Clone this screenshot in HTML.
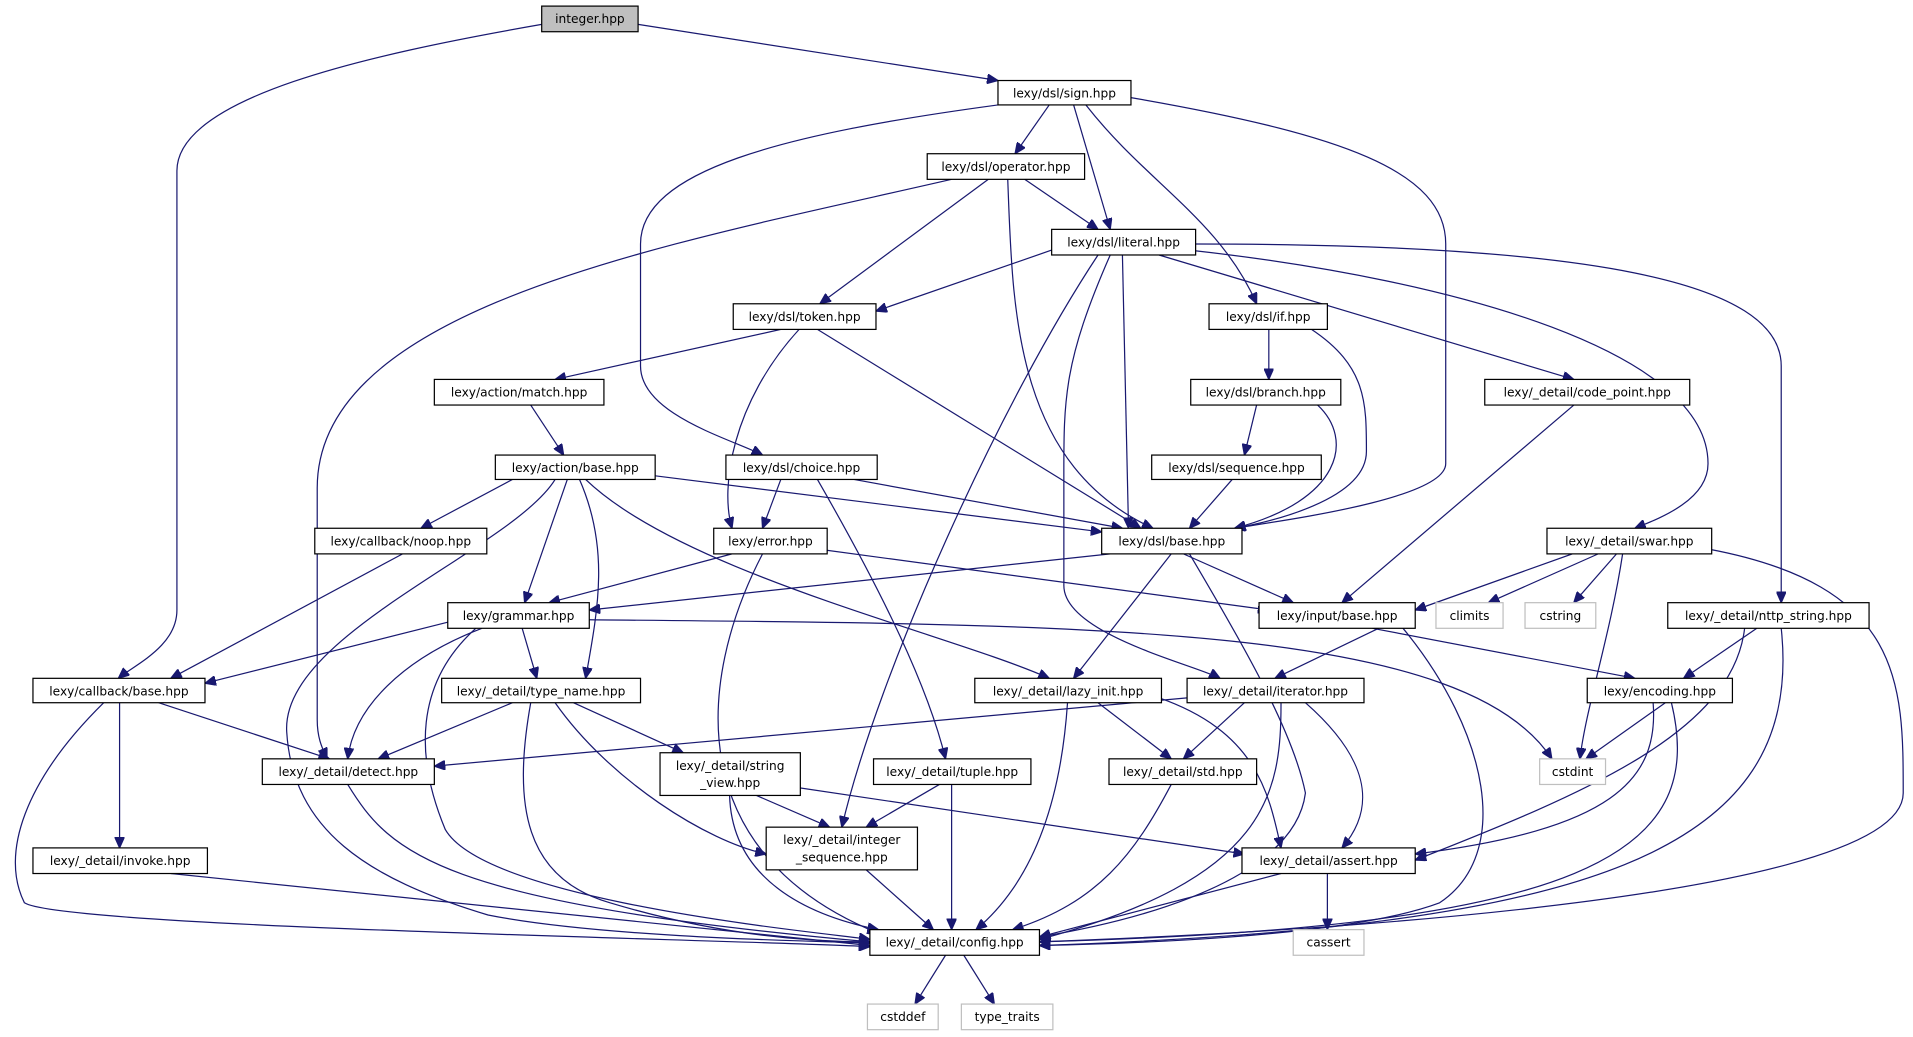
<!DOCTYPE html>
<html><head><meta charset="utf-8"><style>
html,body{margin:0;padding:0;background:#fff;}
svg{display:block;}
text{font-family:"DejaVu Sans","Liberation Sans",sans-serif;font-size:10px;fill:#000;}
.n{fill:#fff;stroke:#000;stroke-width:1;}
.g{fill:#fff;stroke:#bfbfbf;stroke-width:1;}
.e{fill:none;stroke:#191970;stroke-width:1;marker-end:url(#a);}
</style></head><body>
<svg width="1913" height="1037" viewBox="0 0 1568 850" xmlns="http://www.w3.org/2000/svg">
<defs><marker id="a" markerUnits="userSpaceOnUse" markerWidth="10" markerHeight="8" refX="9" refY="4" orient="auto"><path d="M0,0 L9,4 L0,8 z" fill="#191970" stroke="#191970"/></marker></defs>
<g>
<path class="e" d="M523,20 L818,66"/>
<path class="e" d="M444,20 C300,45 145,80 145,140 L145,500 C145,530 110,545 97,556"/>
<path class="e" d="M860,86 L832,126"/>
<path class="e" d="M880,86 L910,188"/>
<path class="e" d="M890,86 C940,150 1000,180 1030,249"/>
<path class="e" d="M927,80 C1100,110 1185,140 1185,200 L1185,380 C1185,410 1040,428 1012,433"/>
<path class="e" d="M818,86 C640,110 525,140 525,200 L525,300 C525,340 600,360 625,373"/>
<path class="e" d="M840,147 L900,188"/>
<path class="e" d="M810,147 L672,249"/>
<path class="e" d="M826,147 C830,250 830,380 945,433"/>
<path class="e" d="M780,147 C550,200 260,250 260,400 L260,590 C260,605 264,613 268,622"/>
<path class="e" d="M862,205 L718,255"/>
<path class="e" d="M920,209 L925,433"/>
<path class="e" d="M950,209 L1290,311"/>
<path class="e" d="M975,205 C1200,230 1400,290 1400,380 C1400,410 1360,425 1340,433"/>
<path class="e" d="M980,200 C1300,200 1460,230 1460,300 L1460,494"/>
<path class="e" d="M900,209 C820,330 720,550 690,678"/>
<path class="e" d="M910,209 C870,300 872,330 872,400 L872,480 C872,520 980,545 1000,556"/>
<path class="e" d="M640,270 L455,311"/>
<path class="e" d="M655,270 C600,330 590,400 600,433"/>
<path class="e" d="M670,270 L935,433"/>
<path class="e" d="M1040,270 L1040,311"/>
<path class="e" d="M1075,270 C1120,300 1120,330 1120,370 C1120,410 1040,428 1012,433"/>
<path class="e" d="M435,332 L462,373"/>
<path class="e" d="M1030,332 L1020,373"/>
<path class="e" d="M1080,332 C1110,360 1100,410 1012,433"/>
<path class="e" d="M1290,332 L1100,494"/>
<path class="e" d="M420,393 L345,433"/>
<path class="e" d="M465,393 L430,494"/>
<path class="e" d="M537,390 L903,436"/>
<path class="e" d="M475,393 C500,450 490,500 480,556"/>
<path class="e" d="M480,393 C560,470 780,520 860,556"/>
<path class="e" d="M455,393 C420,450 230,520 235,600 C240,680 300,720 400,750 C500,770 700,772 713,773"/>
<path class="e" d="M640,393 L625,433"/>
<path class="e" d="M700,393 L920,433"/>
<path class="e" d="M670,393 C720,480 760,560 775,622"/>
<path class="e" d="M1010,393 L975,433"/>
<path class="e" d="M330,454 L140,556"/>
<path class="e" d="M600,454 L450,494"/>
<path class="e" d="M670,450 L1040,500"/>
<path class="e" d="M625,454 C570,560 560,700 720,765"/>
<path class="e" d="M910,454 L483,500"/>
<path class="e" d="M970,454 L1060,494"/>
<path class="e" d="M960,454 L880,556"/>
<path class="e" d="M975,454 C1020,530 1060,600 1070,650 C1060,730 900,760 852,768"/>
<path class="e" d="M1300,450 L1160,500"/>
<path class="e" d="M1310,454 L1220,494"/>
<path class="e" d="M1325,454 L1290,494"/>
<path class="e" d="M1330,454 C1320,520 1300,580 1295,622"/>
<path class="e" d="M1400,450 C1560,480 1560,560 1560,650 C1560,750 900,770 852,772"/>
<path class="e" d="M367,510 L168,560"/>
<path class="e" d="M428,515 L440,556"/>
<path class="e" d="M395,515 C330,540 290,580 285,622"/>
<path class="e" d="M390,515 C340,560 340,620 365,680 C400,740 680,765 713,770"/>
<path class="e" d="M483,508 C900,512 1200,512 1272,622"/>
<path class="e" d="M1130,515 L1045,556"/>
<path class="e" d="M1125,515 L1340,556"/>
<path class="e" d="M1150,515 C1220,600 1240,700 1180,740 C1100,770 900,774 852,775"/>
<path class="e" d="M1440,515 L1380,556"/>
<path class="e" d="M1430,515 C1420,600 1300,650 1160,705"/>
<path class="e" d="M1460,515 C1480,700 1300,760 852,775"/>
<path class="e" d="M130,576 L270,622"/>
<path class="e" d="M98,576 L98,695"/>
<path class="e" d="M85,576 C20,640 0,700 20,740 C50,760 600,770 713,776"/>
<path class="e" d="M420,576 L310,622"/>
<path class="e" d="M470,576 L560,617"/>
<path class="e" d="M455,576 C500,640 580,690 628,700"/>
<path class="e" d="M435,576 C420,660 430,720 500,740 C600,770 680,772 713,772"/>
<path class="e" d="M900,576 L960,622"/>
<path class="e" d="M950,572 C1030,600 1040,650 1050,695"/>
<path class="e" d="M875,576 C870,650 850,720 800,762"/>
<path class="e" d="M973,572 L356,628"/>
<path class="e" d="M1020,576 L970,622"/>
<path class="e" d="M1070,576 C1120,620 1130,660 1100,695"/>
<path class="e" d="M1050,576 C1050,650 1040,720 852,770"/>
<path class="e" d="M1365,576 L1300,622"/>
<path class="e" d="M1355,576 C1360,640 1320,680 1160,700"/>
<path class="e" d="M1370,576 C1400,700 1300,760 852,772"/>
<path class="e" d="M285,643 C320,700 360,740 713,772"/>
<path class="e" d="M620,652 L680,678"/>
<path class="e" d="M650,645 L1020,700"/>
<path class="e" d="M598,652 C600,720 660,750 720,762"/>
<path class="e" d="M770,643 L710,678"/>
<path class="e" d="M780,643 L780,762"/>
<path class="e" d="M960,643 C930,700 900,740 830,762"/>
<path class="e" d="M140,716 L713,775"/>
<path class="e" d="M710,713 L765,762"/>
<path class="e" d="M1050,716 L852,768"/>
<path class="e" d="M1088,716 L1088,762"/>
<path class="e" d="M775,783 L750,823"/>
<path class="e" d="M790,783 L815,823"/>
</g>
<g text-anchor="middle">
<rect x="444" y="5" width="79" height="21" fill="#bfbfbf" stroke="#000"/><text x="483.5" y="19">integer.hpp</text>
<rect class="n" x="818" y="66" width="109" height="20"/><text x="872.5" y="80">lexy/dsl/sign.hpp</text>
<rect class="n" x="760" y="126" width="129" height="21"/><text x="824.5" y="140">lexy/dsl/operator.hpp</text>
<rect class="n" x="862" y="188" width="118" height="21"/><text x="921" y="202">lexy/dsl/literal.hpp</text>
<rect class="n" x="601" y="249" width="117" height="21"/><text x="659.5" y="263">lexy/dsl/token.hpp</text>
<rect class="n" x="991" y="249" width="97" height="21"/><text x="1039.5" y="263">lexy/dsl/if.hpp</text>
<rect class="n" x="356" y="311" width="139" height="21"/><text x="425.5" y="325">lexy/action/match.hpp</text>
<rect class="n" x="976" y="311" width="123" height="21"/><text x="1037.5" y="325">lexy/dsl/branch.hpp</text>
<rect class="n" x="1217" y="311" width="168" height="21"/><text x="1301" y="325">lexy/_detail/code_point.hpp</text>
<rect class="n" x="406" y="373" width="131" height="20"/><text x="471.5" y="387">lexy/action/base.hpp</text>
<rect class="n" x="595" y="373" width="124" height="20"/><text x="657" y="387">lexy/dsl/choice.hpp</text>
<rect class="n" x="944" y="373" width="139" height="20"/><text x="1013.5" y="387">lexy/dsl/sequence.hpp</text>
<rect class="n" x="258" y="433" width="141" height="21"/><text x="328.5" y="447">lexy/callback/noop.hpp</text>
<rect class="n" x="585" y="433" width="93" height="21"/><text x="631.5" y="447">lexy/error.hpp</text>
<rect class="n" x="903" y="433" width="115" height="21"/><text x="960.5" y="447">lexy/dsl/base.hpp</text>
<rect class="n" x="1268" y="433" width="135" height="21"/><text x="1335.5" y="447">lexy/_detail/swar.hpp</text>
<rect class="n" x="367" y="494" width="116" height="21"/><text x="425" y="508">lexy/grammar.hpp</text>
<rect class="n" x="1032" y="494" width="128" height="21"/><text x="1096" y="508">lexy/input/base.hpp</text>
<rect class="g" x="1177" y="494" width="55" height="21"/><text x="1204.5" y="508">climits</text>
<rect class="g" x="1250" y="494" width="58" height="21"/><text x="1279" y="508">cstring</text>
<rect class="n" x="1367" y="494" width="165" height="21"/><text x="1449.5" y="508">lexy/_detail/nttp_string.hpp</text>
<rect class="n" x="27" y="556" width="141" height="20"/><text x="97.5" y="570">lexy/callback/base.hpp</text>
<rect class="n" x="362" y="556" width="163" height="20"/><text x="443.5" y="570">lexy/_detail/type_name.hpp</text>
<rect class="n" x="799" y="556" width="153" height="20"/><text x="875.5" y="570">lexy/_detail/lazy_init.hpp</text>
<rect class="n" x="973" y="556" width="145" height="20"/><text x="1045.5" y="570">lexy/_detail/iterator.hpp</text>
<rect class="n" x="1301" y="556" width="119" height="20"/><text x="1360.5" y="570">lexy/encoding.hpp</text>
<rect class="n" x="215" y="622" width="141" height="21"/><text x="285.5" y="636">lexy/_detail/detect.hpp</text>
<rect class="n" x="541" y="617" width="115" height="35"/><text x="598.5" y="631">lexy/_detail/string</text><text x="598.5" y="645">_view.hpp</text>
<rect class="n" x="716" y="622" width="129" height="21"/><text x="780.5" y="636">lexy/_detail/tuple.hpp</text>
<rect class="n" x="909" y="622" width="121" height="21"/><text x="969.5" y="636">lexy/_detail/std.hpp</text>
<rect class="g" x="1262" y="622" width="54" height="21"/><text x="1289" y="636">cstdint</text>
<rect class="n" x="27" y="695" width="143" height="21"/><text x="98.5" y="709">lexy/_detail/invoke.hpp</text>
<rect class="n" x="628" y="678" width="124" height="35"/><text x="690" y="692">lexy/_detail/integer</text><text x="690" y="706">_sequence.hpp</text>
<rect class="n" x="1018" y="695" width="142" height="21"/><text x="1089" y="709">lexy/_detail/assert.hpp</text>
<rect class="n" x="713" y="762" width="139" height="21"/><text x="782.5" y="776">lexy/_detail/config.hpp</text>
<rect class="g" x="1060" y="762" width="58" height="21"/><text x="1089" y="776">cassert</text>
<rect class="g" x="711" y="823" width="58" height="21"/><text x="740" y="837">cstddef</text>
<rect class="g" x="788" y="823" width="75" height="21"/><text x="825.5" y="837">type_traits</text>
</g>
</svg>
</body></html>
